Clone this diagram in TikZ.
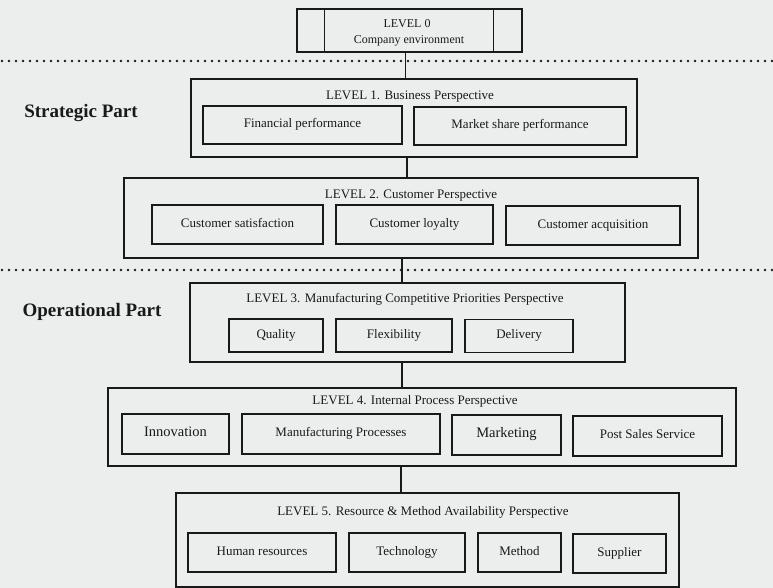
\documentclass[tikz,border=0pt]{standalone}
\usepackage{fontspec}
\setmainfont{Liberation Serif}
\definecolor{bgc}{RGB}{236,238,238}
\definecolor{ink}{RGB}{25,25,25}
\begin{document}
\begin{tikzpicture}[x=1pt,y=-1pt,
  outerbox/.style={draw=ink,line width=1.1pt,inner sep=0pt},
  itembox/.style={draw=ink,line width=1.1pt,inner sep=0pt,font=\fontsize{13}{15}\selectfont,text=ink,text height=1.6ex,text depth=0.35ex},
  bigitem/.style={itembox,font=\fontsize{14.5}{16}\selectfont},
  titletxt/.style={font=\fontsize{13}{15}\selectfont,text=ink,inner sep=0pt,text height=1.6ex,text depth=0.35ex},
  lzerotxt/.style={titletxt,font=\fontsize{12}{13}\selectfont},
  parttxt/.style={font=\fontsize{19}{22}\selectfont\bfseries,text=ink,inner sep=0pt},
  link/.style={draw=ink,line width=1.1pt},
  dotline/.style={draw=ink,line width=2.6pt,line cap=round,dash pattern=on 0pt off 7pt}
]
\fill[bgc] (0,0) rectangle (773,588);
\useasboundingbox (0,0) rectangle (773,588);

% dotted separators
\coordinate (d1l) at (2,61); \coordinate (d1r) at (773,61);
\coordinate (d2l) at (2,270); \coordinate (d2r) at (773,270);
\draw[dotline] (d1l) -- (d1r);
\draw[dotline] (d2l) -- (d2r);

% part labels
\node[parttxt] (sp) at (81,113) {Strategic Part};
\node[parttxt] (op) at (92,312) {Operational Part};

% Level 0
\node[outerbox,minimum width=225pt,minimum height=43pt] (l0) at (409.5,30.5) {};
\draw[link] ([xshift=28pt]l0.north west) -- ([xshift=28pt]l0.south west);
\draw[link] ([xshift=-29pt]l0.north east) -- ([xshift=-29pt]l0.south east);
\node[lzerotxt] (t0a) at (407,24.5) {LEVEL 0};
\node[lzerotxt] (t0b) at (409,41) {Company environment};

% Level 1
\node[outerbox,minimum width=446pt,minimum height=78pt] (l1) at (414,118) {};
\node[titletxt] (t1) at (410,97) {LEVEL 1. Business Perspective};
\node[itembox,minimum width=199pt,minimum height=38pt] (fin) at (302.5,125) {Financial performance};
\node[itembox,minimum width=212pt,minimum height=38pt] (mkt) at (520,126) {Market share performance};

% Level 2
\node[outerbox,minimum width=574pt,minimum height=80pt] (l2) at (411,218) {};
\node[titletxt] (t2) at (411,196) {LEVEL 2. Customer Perspective};
\node[itembox,minimum width=171pt,minimum height=39pt] (sat) at (237.5,224.5) {Customer satisfaction};
\node[itembox,minimum width=157pt,minimum height=39pt] (loy) at (414.5,224.5) {Customer loyalty};
\node[itembox,minimum width=174pt,minimum height=39pt] (acq) at (593,225.5) {Customer acquisition};

% Level 3
\node[outerbox,minimum width=435pt,minimum height=79pt] (l3) at (407.5,322.5) {};
\node[titletxt] (t3) at (405,300) {LEVEL 3. Manufacturing Competitive Priorities Perspective};
\node[itembox,minimum width=94pt,minimum height=33pt] (qual) at (276,335.5) {Quality};
\node[itembox,minimum width=116pt,minimum height=33pt] (flex) at (394,335.5) {Flexibility};
\node[itembox,minimum width=108pt,minimum height=33pt] (del) at (519,336) {Delivery};

% Level 4
\node[outerbox,minimum width=628pt,minimum height=78pt] (l4) at (422,427) {};
\node[titletxt] (t4) at (415,402) {LEVEL 4. Internal Process Perspective};
\node[bigitem,minimum width=107pt,minimum height=40pt] (inn) at (175.5,434) {Innovation};
\node[itembox,minimum width=198pt,minimum height=40pt] (man) at (341,434) {Manufacturing Processes};
\node[bigitem,minimum width=109pt,minimum height=40pt] (mar) at (506.5,435) {Marketing};
\node[itembox,minimum width=149pt,minimum height=40pt] (post) at (647.5,436) {Post Sales Service};

% Level 5
\node[outerbox,minimum width=503pt,minimum height=94pt] (l5) at (427.5,540) {};
\node[titletxt] (t5) at (423,513) {LEVEL 5. Resource \& Method Availability Perspective};
\node[itembox,minimum width=148pt,minimum height=39pt] (hr) at (262,552.5) {Human resources};
\node[itembox,minimum width=116pt,minimum height=39pt] (tech) at (407,552.5) {Technology};
\node[itembox,minimum width=83pt,minimum height=39pt] (meth) at (519.5,552.5) {Method};
\node[itembox,minimum width=93pt,minimum height=39pt] (sup) at (619.5,553.5) {Supplier};

% connectors
\draw[link] ([xshift=-4pt]l0.south) -- ([xshift=-4pt]l0.south |- l1.north);
\draw[link] ([xshift=-7pt]l1.south) -- ([xshift=-7pt]l1.south |- l2.north);
\draw[link] ([xshift=-9pt]l2.south) -- ([xshift=-9pt]l2.south |- l3.north);
\draw[link] ([xshift=-5.5pt]l3.south) -- ([xshift=-5.5pt]l3.south |- l4.north);
\draw[link] ([xshift=-21pt]l4.south) -- ([xshift=-21pt]l4.south |- l5.north);
\end{tikzpicture}
\end{document}
